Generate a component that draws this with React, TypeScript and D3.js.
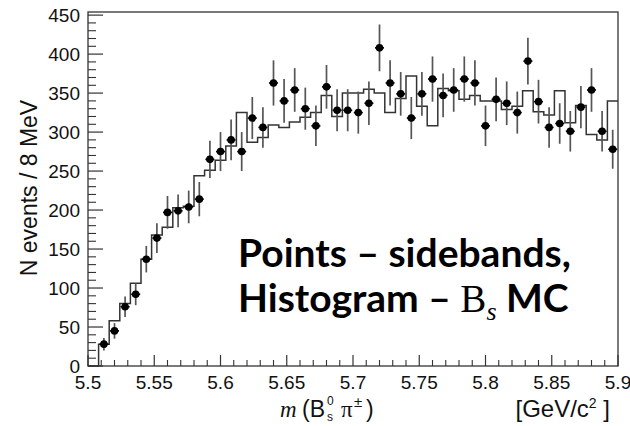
import React from "react";
import * as d3 from "d3";

// ---- data ----
const massMin = 5.5;
const massMax = 5.9;
const binWidth = 0.008; // 8 MeV bins

// sideband points, bins 1..49 (bin 0 empty)
const sidebandCounts = [
  28, 45, 76, 92, 137, 164, 197, 199, 204, 214,
  265, 275, 290, 275, 318, 306, 363, 340, 354, 330,
  308, 358, 328, 328, 325, 337, 408, 363, 349, 318,
  349, 368, 347, 354, 368, 363, 308, 342, 337, 325,
  391, 339, 306, 311, 301, 332, 354, 301, 278,
];
const sidebandErrors = [
  8, 10, 13, 14, 17, 19, 21, 21, 21, 22,
  24, 25, 26, 25, 27, 26, 29, 28, 28, 27,
  26, 28, 27, 27, 27, 28, 30, 29, 28, 27,
  28, 29, 28, 28, 29, 29, 26, 28, 28, 27,
  30, 28, 26, 26, 26, 27, 28, 26, 25,
];
// Bs MC histogram, bins 0..49
const mcHistogram = [
  0, 28, 58, 80, 106, 137, 168, 178, 203, 205,
  244, 251, 264, 282, 325, 287, 293, 309, 306, 313,
  319, 325, 347, 320, 350, 350, 355, 350, 325, 343,
  372, 333, 308, 356, 353, 342, 347, 340, 340, 329,
  333, 353, 326, 322, 353, 312, 334, 297, 290, 340,
];

const xTickValues = [5.5, 5.55, 5.6, 5.65, 5.7, 5.75, 5.8, 5.85, 5.9];
const xTickLabels = ["5.5", "5.55", "5.6", "5.65", "5.7", "5.75", "5.8", "5.85", "5.9"];
const yTickValues = [0, 50, 100, 150, 200, 250, 300, 350, 400, 450];
const yTickLabels = ["0", "50", "100", "150", "200", "250", "300", "350", "400", "450"];

const W = 630;
const H = 426;
const frame = { left: 88, right: 618, top: 12, bottom: 366 };

export default function App() {
  const x = d3.scaleLinear().domain([massMin, massMax]).range([frame.left, frame.right]);
  const y = d3.scaleLinear().domain([0, 454]).range([frame.bottom, frame.top]);

  const histPts: [number, number][] = mcHistogram.map((v, k) => [massMin + k * binWidth, v]);
  histPts.push([massMax, mcHistogram[mcHistogram.length - 1]]);
  const histPath =
    d3
      .line<[number, number]>()
      .x((d) => x(d[0]))
      .y((d) => y(d[1]))
      .curve(d3.curveStepAfter)(histPts) || "";

  const yMinor = d3.range(0, 451, 10).filter((v) => v % 50 !== 0);
  const xMinor = d3.range(0, 41).map((i) => massMin + i * 0.01).filter((_, i) => i % 5 !== 0);

  const sans = "'Liberation Sans', Arial, Helvetica, sans-serif";
  const serif = "'Liberation Serif', 'Times New Roman', serif";
  const bold = "Lato, 'Open Sans', sans-serif";

  return (
    <svg
      width={W}
      height={H}
      style={{ position: "absolute", left: 0, top: 0, background: "#fff" }}
    >
      <rect x={0} y={0} width={W} height={H} fill="#fff" />
      {/* frame */}
      <rect
        x={frame.left}
        y={frame.top}
        width={frame.right - frame.left}
        height={frame.bottom - frame.top}
        fill="none"
        stroke="#333"
        strokeWidth={1.3}
      />
      {/* y ticks */}
      {yTickValues.map((v) => (
        <line key={"ym" + v} x1={frame.left} x2={frame.left + 15} y1={y(v)} y2={y(v)} stroke="#333" strokeWidth={1.2} />
      ))}
      {yMinor.map((v) => (
        <line key={"yn" + v} x1={frame.left} x2={frame.left + 8} y1={y(v)} y2={y(v)} stroke="#333" strokeWidth={1.1} />
      ))}
      {yTickValues.map((v, i) => (
        <text key={"yl" + v} x={frame.left - 8} y={y(v)} dy="0.36em" textAnchor="end" fontFamily={sans} fontSize={19} fill="#111">
          {yTickLabels[i]}
        </text>
      ))}
      {/* x ticks */}
      {xTickValues.map((v) => (
        <line key={"xm" + v} x1={x(v)} x2={x(v)} y1={frame.bottom} y2={frame.bottom - 11} stroke="#333" strokeWidth={1.2} />
      ))}
      {xMinor.map((v, i) => (
        <line key={"xn" + i} x1={x(v)} x2={x(v)} y1={frame.bottom} y2={frame.bottom - 6} stroke="#333" strokeWidth={1.1} />
      ))}
      {xTickValues.map((v, i) => (
        <text key={"xl" + v} x={x(v)} y={frame.bottom + 23} textAnchor="middle" fontFamily={sans} fontSize={19} fill="#111">
          {xTickLabels[i]}
        </text>
      ))}

      {/* histogram */}
      <path d={histPath} fill="none" stroke="#333" strokeWidth={1.5} />

      {/* sideband points */}
      {sidebandCounts.map((v, i) => {
        const cx = x(massMin + (i + 1.5) * binWidth);
        const e = sidebandErrors[i];
        return (
          <g key={"p" + i}>
            <line x1={cx} x2={cx} y1={y(v - e)} y2={y(v + e)} stroke="#555" strokeWidth={1.7} />
            <line x1={cx - 4.5} x2={cx + 4.5} y1={y(v)} y2={y(v)} stroke="#000" strokeWidth={1.6} />
            <circle cx={cx} cy={y(v)} r={3.8} fill="#000" />
          </g>
        );
      })}

      {/* y axis title */}
      <text
        transform={`translate(37,188) rotate(-90)`}
        textAnchor="middle"
        fontFamily={sans}
        fontSize={23}
        fill="#111"
      >
        N events / 8 MeV
      </text>

      {/* x axis title */}
      <g fontFamily={sans} fontSize={23} fill="#111">
        <text x={280} y={417} fontFamily={serif} fontStyle="italic">m</text>
        <text x={302} y={417}>(B</text>
        <text x={327} y={405} fontSize={12}>0</text>
        <text x={327} y={421} fontSize={12}>s</text>
        <text x={341} y={417} fontFamily={serif}>π</text>
        <text x={354} y={407} fontSize={15}>±</text>
        <text x={366} y={417}>)</text>
        <text x={610} y={417} textAnchor="end" fontSize={24}>
          [GeV/c<tspan fontSize={14} dy={-9}>2</tspan>
          <tspan dy={9}> ]</tspan>
        </text>
      </g>

      {/* annotation */}
      <g fontFamily={bold} fontWeight={700} fontSize={39} fill="#000">
        <text x={238} y={267}>Points – sidebands,</text>
        <text x={238} y={312}>
          Histogram –{" "}
          <tspan fontFamily={serif} fontWeight={400}>B</tspan>
          <tspan fontFamily={serif} fontWeight={400} fontStyle="italic" fontSize={26} dy={8}>s</tspan>
          <tspan dy={-8}> MC</tspan>
        </text>
      </g>
    </svg>
  );
}
